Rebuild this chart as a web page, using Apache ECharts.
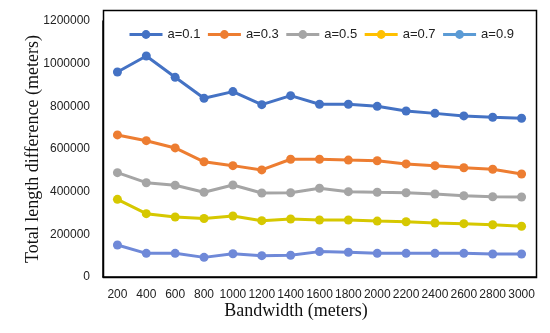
<!DOCTYPE html>
<html>
<head>
<meta charset="utf-8">
<script src="https://cdn.jsdelivr.net/npm/echarts@6/dist/echarts.min.js"></script>
<style>html,body{margin:0;padding:0;background:#fff}#c{width:550px;height:333px}</style>
</head>
<body>
<div id="c"></div>
<script>
var categories = ['200','400','600','800','1000','1200','1400','1600','1800','2000','2200','2400','2600','2800','3000'];
var seriesNames = ['a=0.1','a=0.3','a=0.5','a=0.7','a=0.9'];
var a01 = [961000,1036000,936000,838000,869000,808000,850000,810000,810000,800000,778000,767000,755000,749000,744000];
var a03 = [666000,639000,605000,540000,522000,502000,552000,552000,548000,545000,530000,522000,512000,505000,483000];
var a05 = [489000,442000,430000,397000,431000,394000,395000,416000,400000,397000,395000,389000,381000,376000,375000];
var a07 = [364000,297000,281000,274000,286000,264000,272000,267000,267000,262000,259000,253000,250000,245000,238000];
var a09 = [150000,111000,111000,92000,109000,100000,102000,119000,116000,111000,111000,111000,111000,108000,108000];
var yTicks = [0,200000,400000,600000,800000,1000000,1200000];

var lineColors = ['#4472C4','#ED7D31','#A5A5A5','#D6C800','#6F89D8'];
var legendColors = ['#4472C4','#ED7D31','#A5A5A5','#FFC000','#5B9BD5'];
var allData = [a01,a03,a05,a07,a09];

var chart = echarts.init(document.getElementById('c'));
var series = seriesNames.map(function(n,i){
  return {
    name:n, type:'line', data:allData[i],
    symbol:'circle', symbolSize:9,
    lineStyle:{width:3,color:lineColors[i]},
    itemStyle:{color:lineColors[i]},
    z: 10-i
  };
});
chart.setOption({
  animation:false,
  backgroundColor:'#fff',
  grid:{left:103,right:14,top:21,bottom:56,containLabel:false},
  legend:{
    top:23,left:123,itemWidth:33,itemHeight:11,itemGap:6,
    textStyle:{fontFamily:'Liberation Sans',fontSize:13,color:'#222'},
    data:seriesNames.map(function(n,i){return {name:n,itemStyle:{color:legendColors[i]},lineStyle:{color:legendColors[i],width:3}};})
  },
  xAxis:{
    type:'category',data:categories,boundaryGap:true,
    axisLine:{lineStyle:{color:'#000',width:1.5}},
    axisTick:{inside:true,length:5,lineStyle:{color:'#000'}},
    axisLabel:{fontFamily:'Liberation Sans',fontSize:12,color:'#222',margin:12,interval:0},
    splitLine:{show:false}
  },
  yAxis:{
    type:'value',min:yTicks[0],max:yTicks[yTicks.length-1],interval:200000,
    axisLine:{show:true,lineStyle:{color:'#000',width:1.5}},
    axisTick:{show:false},
    axisLabel:{fontFamily:'Liberation Sans',fontSize:12,color:'#222',margin:13,formatter:function(v){return String(v);}},
    splitLine:{show:false},
    name:'Total length difference (meters)',nameLocation:'middle',nameGap:61,nameMoveOverlap:false,
    nameTextStyle:{fontFamily:'Liberation Serif',fontSize:18,color:'#111'}
  },
  graphic:[
    {type:'rect',left:101,top:8,z:100,silent:true,shape:{width:433,height:267},style:{fill:'none',stroke:'#000',lineWidth:1.5}},
    {type:'text',x:296,y:311,style:{text:'Bandwidth (meters)',font:'18px "Liberation Serif"',fill:'#111',align:'center',verticalAlign:'middle'}}
  ],
  series:series
});
</script>
</body>
</html>
